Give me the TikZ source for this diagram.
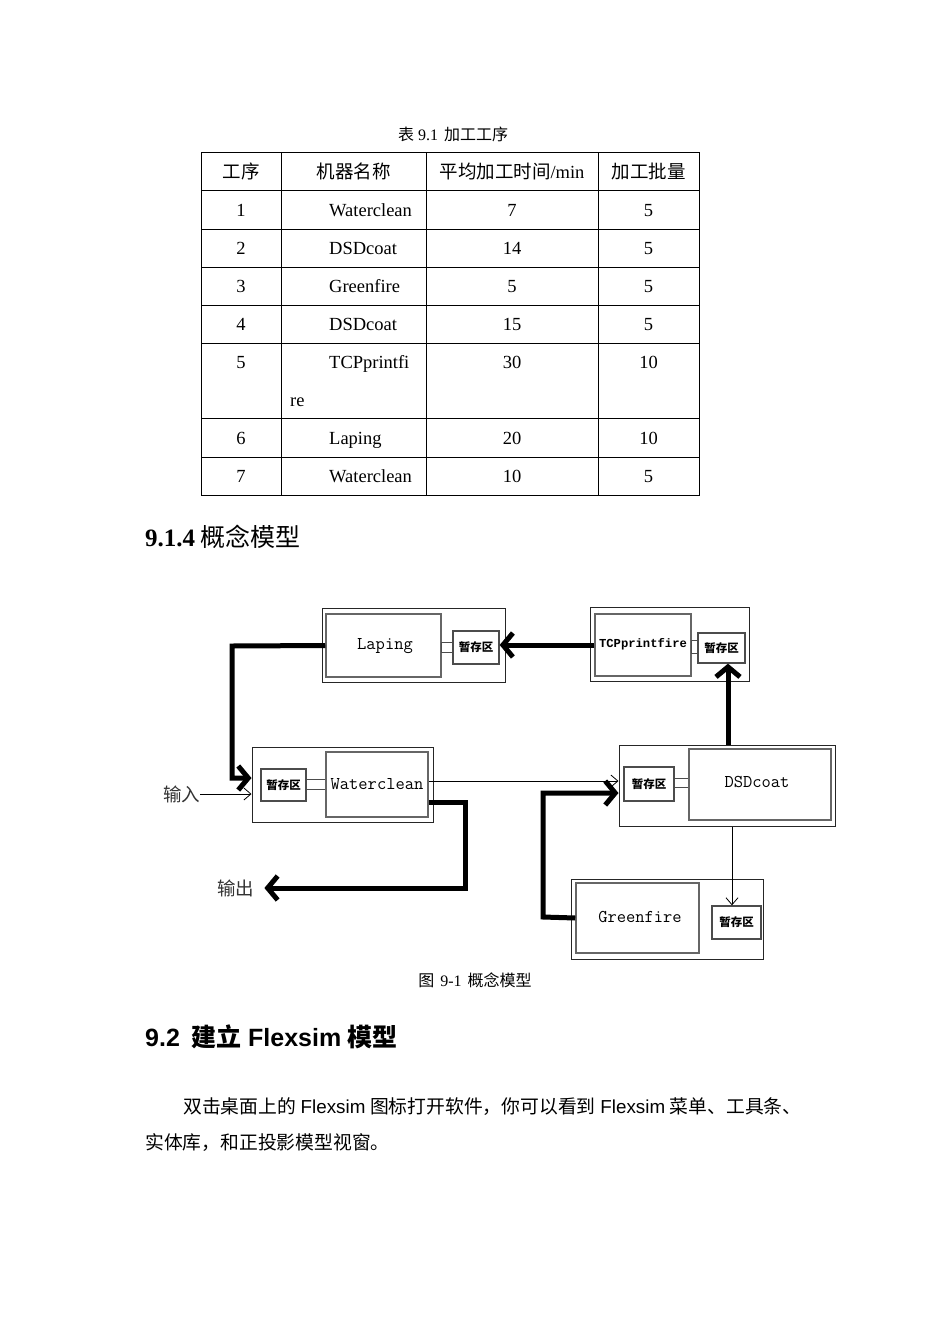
\documentclass[tikz,border=0pt]{standalone}
\usepackage{fontspec}
\setmainfont{Liberation Serif}
\newfontfamily\cjk{Noto Sans CJK SC}
\newfontfamily\sansf{Liberation Sans}
\newfontfamily\monof{Liberation Mono}
\usetikzlibrary{arrows.meta}
\newcommand\fsz[1]{\fontsize{#1pt}{#1pt}\selectfont}
\begin{document}
\begin{tikzpicture}[x=1pt,y=-1pt,
 outerbox/.style={draw=black!85, line width=1pt, inner sep=0pt},
 innerbox/.style={draw=black!60, line width=1.5pt, inner sep=0pt, font=\ttfamily\fsz{18}},
 bufbox/.style={draw=black!70, line width=1.3pt, inner sep=0pt, font=\cjk\bfseries\fsz{11.5}},
 linkbox/.style={draw=black!70, line width=1pt, inner sep=0pt},
 mtext/.style={inner sep=0pt, font=\ttfamily\fsz{18}},
 bigarr/.style={line width=5pt, line join=miter, -{Straight Barb[length=10pt,width=24pt]}},
 thinarr/.style={line width=0.8pt, -{Straight Barb[length=7pt,width=12pt]}},
 cell/.style={inner sep=0pt, font=\fsz{18.5}, text height=16pt, text depth=2pt},
 grid/.style={line width=1pt},
 lbl/.style={inner sep=0pt, font=\cjk\fsz{18.5}, text=black!80}
]
\useasboundingbox (0,0) rectangle (950,1344);
\fill[white] (0,0) rectangle (950,1344);

% ---------- table caption ----------
\node[inner sep=0pt, font=\fsz{16}] (tcap) at (453,134) {{\cjk 表} 9.1\hspace{6pt}{\cjk 加工工序}};

% ---------- table grid ----------
\draw[grid] (201,152) rectangle (699,495);
\foreach \x in {281,426,598} \draw[grid] (\x,152) -- (\x,495);
\foreach \y in {190,229,267,305,343,418,457} \draw[grid] (201,\y) -- (699,\y);

% header
\node[cell] (h1) at (241,171) {\cjk 工序};
\node[cell] (h2) at (353.5,171) {\cjk 机器名称};
\node[cell] (h3) at (512,171) {{\cjk 平均加工时间}/min};
\node[cell] (h4) at (648.5,171) {\cjk 加工批量};

\foreach \y/\n/\m/\t/\b in {209/1/Waterclean/7/5, 247/2/DSDcoat/14/5, 285/3/Greenfire/5/5, 323/4/DSDcoat/15/5, 361/5/TCPprintfi/30/10, 437/6/Laping/20/10, 475/7/Waterclean/10/5}{
  \node[cell] (n\n) at (241,\y) {\n};
  \node[cell, anchor=west] (m\n) at (329,\y) {\m};
  \node[cell] (t\n) at (512,\y) {\t};
  \node[cell] (b\n) at (648.5,\y) {\b};
}
\node[cell, anchor=west] (m5b) at (290,399) {re};

% ---------- heading 9.1.4 ----------
\node[inner sep=0pt, anchor=west, font=\fsz{25}] (sec914) at (145,537) {\textbf{9.1.4}\hspace{5pt}{\cjk 概念模型}};

% ---------- diagram ----------
% Laping
\node[outerbox, minimum width=183pt, minimum height=74pt] (LapO) at (413.5,645) {};
\node[innerbox, minimum width=115pt, minimum height=63pt] (LapI) at (383.5,645.5) {};
\node[mtext] (LapT) at (385,646) {Laping};
\node[linkbox, minimum width=12pt, minimum height=10pt] (LapC) at (447,647) {};
\node[bufbox, minimum width=46pt, minimum height=33pt] (LapB) at (476,647.5) {暂存区};

% TCPprintfire
\node[outerbox, minimum width=159pt, minimum height=74pt] (TCPO) at (669.5,644) {};
\node[innerbox, minimum width=96pt, minimum height=62pt] (TCPI) at (643,645) {};
\node[inner sep=0pt, font=\monof\bfseries\fsz{12.2}] (TCPt) at (643,644) {TCPprintfire};
\node[linkbox, minimum width=7pt, minimum height=13pt] (TCPC) at (694.5,646.5) {};
\node[bufbox, minimum width=47pt, minimum height=30pt] (TCPB) at (721.5,648) {暂存区};

% Waterclean
\node[outerbox, minimum width=181pt, minimum height=75pt] (WO) at (342.5,784.5) {};
\node[bufbox, minimum width=45pt, minimum height=32pt] (WB) at (283.5,785) {暂存区};
\node[linkbox, minimum width=20pt, minimum height=10pt] (WC) at (316,784) {};
\node[innerbox, minimum width=102pt, minimum height=65pt] (WI) at (377,784.5) {};
\node[mtext] (WIt) at (377,784) {Waterclean};

% DSDcoat
\node[outerbox, minimum width=216pt, minimum height=81pt] (DO) at (727,785.5) {};
\node[bufbox, minimum width=50pt, minimum height=34pt] (DB) at (649,784) {暂存区};
\node[linkbox, minimum width=15pt, minimum height=9pt] (DC) at (681.5,782.5) {};
\node[innerbox, minimum width=142pt, minimum height=71pt] (DI) at (760,784.5) {};
\node[mtext] (DIt) at (757,782) {DSDcoat};

% Greenfire
\node[outerbox, minimum width=192pt, minimum height=80pt] (GO) at (667,919) {};
\node[innerbox, minimum width=123pt, minimum height=70pt] (GI) at (637.5,918) {};
\node[mtext] (GIt) at (640,917) {Greenfire};
\node[bufbox, minimum width=49pt, minimum height=33pt] (GB) at (736.5,922.5) {暂存区};

% input / output labels
\node[lbl, anchor=west] (inp) at (163,794) {输入};
\node[lbl, anchor=west] (outp) at (217,888) {输出};

% connectors
\draw[bigarr] (LapI.west) -- (232,646) -- (232,778) -- (WO.west |- 0,778);
\draw[thinarr] (inp.east) -- (WO.west |- inp.east);
\draw[thinarr] (WI.east |- 0,781) -- (DO.west |- 0,781);
\draw[bigarr] (WI.east |- 0,802) -- (465,802) -- (465,888) -- ([xshift=10pt]outp.east);
\draw[bigarr] (DO.north -| 728,0) -- (TCPB.south -| 728,0);
\draw[bigarr] (TCPI.west) -- (LapB.east |- TCPI.west);
\draw[thinarr] (DO.south -| 732,0) -- (GB.north -| 732,0);
\draw[bigarr] (GI.west) -- (543,917) -- (543,793) -- (DO.west |- 0,793);

% figure caption
\node[inner sep=0pt, font=\fsz{16}] (fcap) at (475,980) {{\cjk 图}\hspace{6pt}9-1\hspace{6pt}{\cjk 概念模型}};

% ---------- heading 9.2 ----------
\node[inner sep=0pt, anchor=west, font=\fsz{25}] (sec92) at (145,1037) {{\sansf\bfseries 9.2}\hspace{12pt}{\cjk\bfseries 建立} {\sansf\bfseries Flexsim} {\cjk\bfseries 模型}};

% ---------- body ----------
\node[inner sep=0pt, anchor=west, font=\fsz{18.8}] (body1) at (183,1107) {{\cjk 双击桌面上的} {\sansf Flexsim} {\cjk 图标打开软件，你可以看到} {\sansf Flexsim} {\cjk 菜单、工具条、}};
\node[inner sep=0pt, anchor=west, font=\fsz{18.8}] (body2) at (145,1143) {\cjk 实体库，和正投影模型视窗。};
\end{tikzpicture}
\end{document}
